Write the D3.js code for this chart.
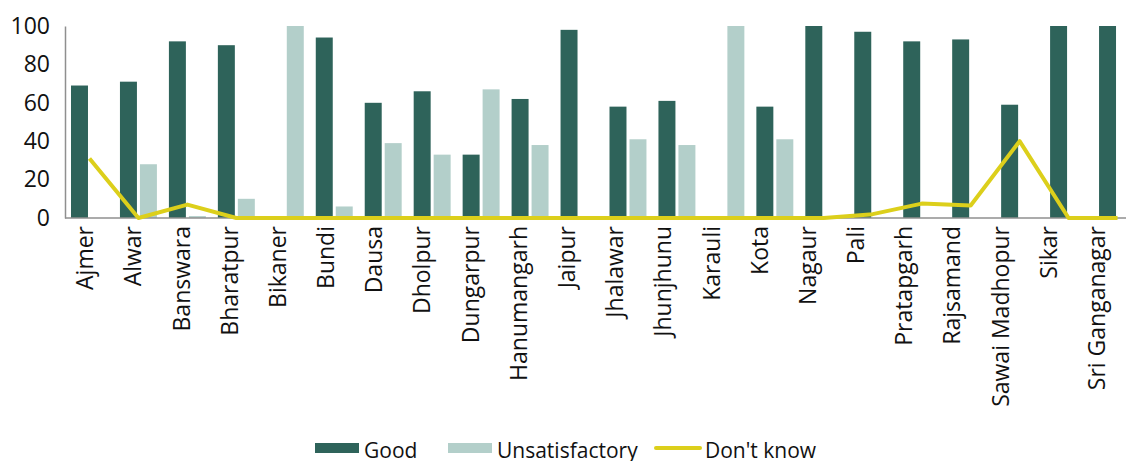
<!DOCTYPE html>
<html>
<head>
<meta charset="utf-8">
<script src="https://cdn.jsdelivr.net/npm/d3@7"></script>
<style>
  html, body { margin: 0; padding: 0; background: #ffffff; }
  svg { display: block; font-family: "Open Sans", "Noto Sans", sans-serif; }
</style>
</head>
<body>
<svg id="chart" width="1126" height="461"></svg>
<script>
// District-wise ratings (percent of respondents)
const districts = ["Ajmer", "Alwar", "Banswara", "Bharatpur", "Bikaner", "Bundi", "Dausa", "Dholpur",
  "Dungarpur", "Hanumangarh", "Jaipur", "Jhalawar", "Jhunjhunu", "Karauli", "Kota", "Nagaur",
  "Pali", "Pratapgarh", "Rajsamand", "Sawai Madhopur", "Sikar", "Sri Ganganagar"];
const good =           [69, 71, 92, 90, 0, 94, 60, 66, 33, 62, 98, 58, 61, 0, 58, 100, 97, 92, 93, 59, 100, 100];
const unsatisfactory = [0, 28, 1, 10, 100, 6, 39, 33, 67, 38, 0, 41, 38, 100, 41, 0, 0, 0, 0, 0, 0, 0];
const dontKnow =       [31, 0, 7, 0, 0, 0, 0, 0, 0, 0, 0, 0, 0, 0, 0, 0, 2, 7.5, 6.5, 40, 0, 0];
const yTicks = [0, 20, 40, 60, 80, 100];
const seriesNames = ["Good", "Unsatisfactory", "Don't know"];

const colors = { "Good": "#2e635a", "Unsatisfactory": "#b3cfca", "Don't know": "#dccf1b" };

const svg = d3.select("#chart");
const plot = { left: 65, right: 1142, top: 26, bottom: 218 };

// Bar positions and a slightly narrower band for the category labels
const x = d3.scaleBand().domain(districts).range([plot.left, plot.right]).padding(0);
const xLabel = d3.scaleBand().domain(districts).range([61, 1121]).padding(0);
const xSub = d3.scaleBand().domain(["Good", "Unsatisfactory"])
  .range([6, x.bandwidth() - 6]).paddingInner(0.15);
const y = d3.scaleLinear().domain([0, 100]).range([plot.bottom, plot.top]);

// Bars
const rows = districts.map((d, i) => ({ district: d, Good: good[i], Unsatisfactory: unsatisfactory[i] }));
const groups = svg.append("g").selectAll("g").data(rows).join("g")
  .attr("transform", d => `translate(${x(d.district)},0)`);
groups.selectAll("rect")
  .data(d => ["Good", "Unsatisfactory"].map(k => ({ key: k, value: d[k] })))
  .join("rect")
  .attr("x", d => xSub(d.key))
  .attr("width", xSub.bandwidth())
  .attr("y", d => y(d.value))
  .attr("height", d => y(0) - y(d.value))
  .attr("fill", d => colors[d.key]);

// Axes
const yAxis = svg.append("g")
  .attr("transform", `translate(${plot.left},0)`)
  .call(d3.axisLeft(y).tickValues(yTicks).tickSize(0).tickPadding(15));
yAxis.select(".domain").attr("stroke", "#8f8f8f").attr("stroke-width", 1.5);
yAxis.selectAll("text").attr("font-size", 23).attr("fill", "#111").attr("font-family", "Open Sans");

svg.append("line")
  .attr("x1", x.range()[0]).attr("x2", x.range()[1])
  .attr("y1", y(0)).attr("y2", y(0))
  .attr("stroke", "#8f8f8f").attr("stroke-width", 1.5);

const xAxis = svg.append("g")
  .attr("transform", `translate(0,${plot.bottom})`)
  .call(d3.axisBottom(xLabel).tickSize(0).tickSizeOuter(0));
xAxis.select(".domain").remove();
xAxis.selectAll("text")
  .attr("font-size", 23)
  .attr("fill", "#111")
  .attr("font-family", "Open Sans")
  .attr("text-anchor", "end")
  .attr("dy", "0.35em")
  .attr("transform", "translate(0,8) rotate(-90)")
  .attr("x", 0)
  .attr("y", 0);

// Don't know line
const line = d3.line()
  .x((d, i) => x(districts[i]) + x.bandwidth() / 2)
  .y(d => y(d));
svg.append("path")
  .datum(dontKnow)
  .attr("d", line)
  .attr("fill", "none")
  .attr("stroke", colors["Don't know"])
  .attr("stroke-width", 4)
  .attr("stroke-linejoin", "round");

// Legend
const legend = svg.append("g").attr("font-family", "Open Sans").attr("font-size", 21);
const legendX = [315, 448, 656];
seriesNames.forEach((name, i) => {
  const g = legend.append("g").attr("transform", `translate(${legendX[i]},0)`);
  if (name === "Don't know") {
    g.append("line").attr("x1", 0).attr("x2", 44).attr("y1", 448).attr("y2", 448)
      .attr("stroke", colors[name]).attr("stroke-width", 4).attr("stroke-linecap", "round");
  } else {
    g.append("rect").attr("x", 0).attr("y", 443).attr("width", 44).attr("height", 10)
      .attr("fill", colors[name]);
  }
  g.append("text").attr("x", 49).attr("y", 458).attr("fill", "#111").text(name);
});
</script>
</body>
</html>
